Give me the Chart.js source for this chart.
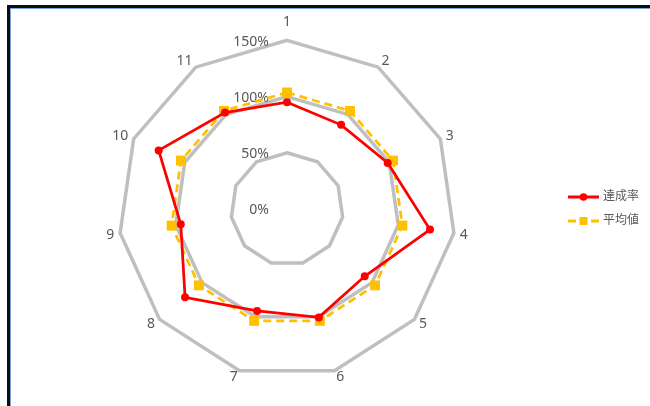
<!DOCTYPE html>
<html>
<head>
<meta charset="utf-8">
<script src="https://cdn.jsdelivr.net/npm/chart.js@4"></script>
<style>
  html, body { margin: 0; padding: 0; background: #fff; }
  #wrap { position: relative; width: 650px; height: 406px; overflow: hidden; }
  #frame {
    position: absolute; left: 7px; top: 5px; width: 660px; height: 420px;
    border-left: 3px solid #0d0d0d; border-top: 3px solid #0d0d0d;
    box-shadow: inset 1px 1px 0 #7aa3dc;
  }
  #chart { position: absolute; left: 0; top: 0; }
</style>
</head>
<body>
<div id="wrap">
  <div id="frame"></div>
  <canvas id="chart" width="650" height="406"></canvas>
</div>
<script>
// chart values (percent)
const categories = ['1', '2', '3', '4', '5', '6', '7', '8', '9', '10', '11'];
const achievement = [95, 89, 98.5, 128.5, 91.5, 100.5, 94.5, 120, 95.5, 125.5, 102];
const average = [103.7, 103.7, 103.7, 103.7, 103.7, 103.7, 103.7, 103.7, 103.7, 103.7, 103.7];
const tickValues = [0, 50, 100, 150];
const seriesNames = ['達成率', '平均値'];

const FONT = '"Noto Sans", "Noto Sans CJK JP", sans-serif';
const TEXT_COLOR = '#595959';

// percent labels sit left of the vertical axis, like Excel does it
const tickLabelPlugin = {
    id: 'tickLabels',
    beforeDatasetsDraw(chart) {
        const r = chart.scales.r;
        const ctx = chart.ctx;
        ctx.save();
        ctx.font = '14px ' + FONT;
        ctx.fillStyle = TEXT_COLOR;
        ctx.textAlign = 'right';
        ctx.textBaseline = 'middle';
        tickValues.forEach(v => {
            const d = r.getDistanceFromCenterForValue(v);
            ctx.fillText(v + '%', r.xCenter - 18, r.yCenter - d + 1.5);
        });
        ctx.restore();
    }
};

// legend with line + marker samples
const sideLegendPlugin = {
    id: 'sideLegend',
    afterDraw(chart) {
        const ctx = chart.ctx;
        const rows = [197, 221];
        ctx.save();
        chart.data.datasets.forEach((ds, i) => {
            const y = rows[i];
            ctx.strokeStyle = ds.borderColor;
            ctx.fillStyle = ds.pointBackgroundColor;
            ctx.lineWidth = 3;
            if (ds.pointStyle === 'rect') {
                ctx.beginPath();
                ctx.moveTo(568, y); ctx.lineTo(576, y);
                ctx.moveTo(591, y); ctx.lineTo(599, y);
                ctx.stroke();
                ctx.fillRect(579.5, y - 4, 8, 8);
            } else {
                ctx.beginPath();
                ctx.moveTo(568, y); ctx.lineTo(599, y);
                ctx.stroke();
                ctx.beginPath();
                ctx.arc(583.5, y, 3.8, 0, Math.PI * 2);
                ctx.fill();
            }
            ctx.font = '12px ' + FONT;
            ctx.fillStyle = TEXT_COLOR;
            ctx.textAlign = 'left';
            ctx.textBaseline = 'middle';
            ctx.fillText(ds.label, 603, y);
        });
        ctx.restore();
    }
};

const ctx = document.getElementById('chart').getContext('2d');

new Chart(ctx, {
    type: 'radar',
    data: {
        labels: categories,
        datasets: [
            {
                label: seriesNames[0],
                data: achievement,
                borderColor: '#ff0000',
                backgroundColor: '#ff0000',
                pointBackgroundColor: '#ff0000',
                pointBorderWidth: 0,
                pointStyle: 'circle',
                pointRadius: 4,
                borderWidth: 2.75,
                fill: false
            },
            {
                label: seriesNames[1],
                data: average,
                borderColor: '#ffc000',
                backgroundColor: '#ffc000',
                pointBackgroundColor: '#ffc000',
                pointBorderWidth: 0,
                pointStyle: 'rect',
                pointRadius: 7,
                borderWidth: 2.75,
                borderDash: [8, 5],
                fill: false
            }
        ]
    },
    options: {
        responsive: false,
        animation: false,
        devicePixelRatio: 1,
        layout: {
            padding: { left: 0, right: 76, top: 12, bottom: 18 }
        },
        plugins: {
            legend: { display: false },
            tooltip: { enabled: false }
        },
        elements: {
            line: { tension: 0 }
        },
        scales: {
            r: {
                min: 0,
                max: 150,
                ticks: { display: false, stepSize: 50 },
                grid: { color: '#bfbfbf', lineWidth: 3.5, circular: false },
                angleLines: { display: false },
                pointLabels: {
                    color: TEXT_COLOR,
                    font: { family: FONT, size: 14, lineHeight: 0.1 },
                    padding: c => (c.index === 0 ? 18 : 6)
                }
            }
        }
    },
    plugins: [tickLabelPlugin, sideLegendPlugin]
});
</script>
</body>
</html>
